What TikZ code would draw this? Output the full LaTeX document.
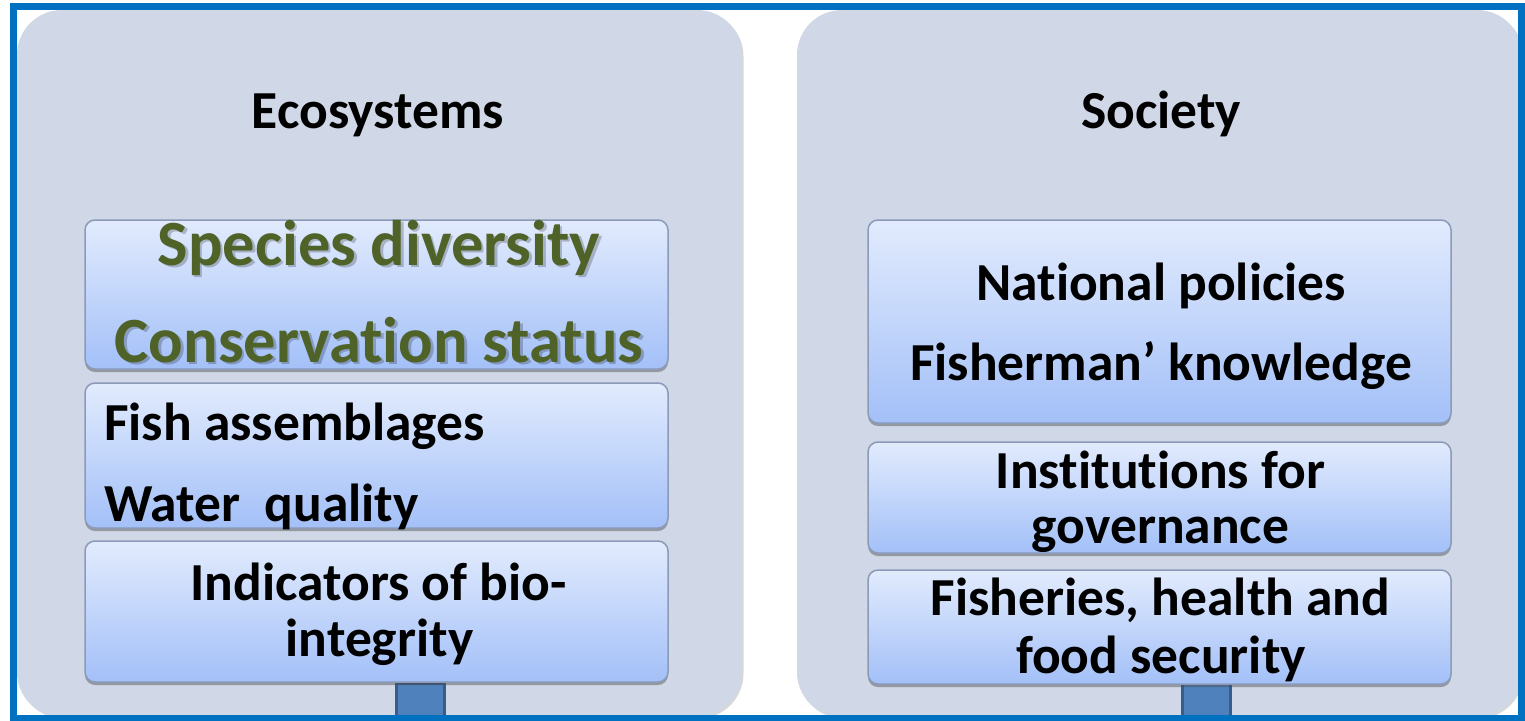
\documentclass[tikz,border=0pt]{standalone}
\usepackage{fontspec}
\setmainfont{Carlito}[Ligatures=NoCommon]
\usetikzlibrary{shadows}
\definecolor{framecol}{HTML}{0070C0}
\definecolor{panelcol}{HTML}{D0D7E6}
\definecolor{boxtop}{HTML}{E2EBFD}
\definecolor{boxbot}{HTML}{A3C0F8}
\definecolor{boxline}{HTML}{8B9AB8}
\definecolor{greentxt}{HTML}{4F6228}
\definecolor{sqfill}{HTML}{4F81BD}
\definecolor{sqline}{HTML}{385D8A}
\tikzset{
  panel/.style={fill=panelcol, rounded corners=45pt, draw=none, inner sep=0pt,
    drop shadow={shadow xshift=1.5pt, shadow yshift=-1.5pt, opacity=0.25, fill=black!60}},
  inbox/.style={draw=boxline, line width=1.5pt, rounded corners=10pt, top color=boxtop,
    bottom color=boxbot, inner sep=0pt,
    drop shadow={shadow xshift=0pt, shadow yshift=-3pt, opacity=0.45, fill=black!70}},
  blk/.style={font=\fontsize{53.5}{60}\selectfont\bfseries, inner sep=0pt, text=black},
  grn/.style={font=\fontsize{64.5}{70}\selectfont\bfseries, inner sep=0pt, text=greentxt},
  grnshadow/.style={font=\fontsize{64.5}{70}\selectfont\bfseries, inner sep=0pt, text=black, opacity=0.22},
  sq/.style={draw=sqline, fill=sqfill, line width=3pt, inner sep=0pt},
}
\begin{document}
\begin{tikzpicture}[x=1pt,y=-1pt]
\useasboundingbox (0,0) rectangle (1525,720);
\fill[white] (0,0) rectangle (1525,720);
\begin{scope}
\clip (17,10) rectangle (1518,715);
% panels
\node[panel, minimum width=725pt, minimum height=707pt] (ecopanel) at (379.5,363.5) {};
\node[panel, minimum width=725pt, minimum height=707pt] (socpanel) at (1159.5,363.5) {};
% connector stubs
\node[sq, minimum width=48pt, minimum height=44pt] (sqleft) at (420,705) {};
\node[sq, minimum width=48pt, minimum height=44pt] (sqright) at (1206,705) {};
\end{scope}
% titles
\node[blk, anchor=base] (ecotitle) at (378,128) {Ecosystems};
\node[blk, anchor=base] (soctitle) at (1161,128) {Society};
% left boxes
\node[inbox, minimum width=583pt, minimum height=149pt] (lb1) at (376.5,294.5) {};
\node[inbox, minimum width=583pt, minimum height=145pt] (lb2) at (376.5,455.5) {};
\node[inbox, minimum width=583pt, minimum height=141pt] (lb3) at (376.5,611.5) {};
% right boxes
\node[inbox, minimum width=583pt, minimum height=203pt] (rb1) at (1159.5,321.5) {};
\node[inbox, minimum width=583pt, minimum height=111pt] (rb2) at (1159.5,497.5) {};
\node[inbox, minimum width=583pt, minimum height=114pt] (rb3) at (1159.5,627) {};
% green text with shadow
\node[grnshadow, anchor=base] (sdsh) at (381.5,267.5) {Species diversity};
\node[grn, anchor=base] (sd) at (379,265) {Species diversity};
\node[grnshadow, anchor=base] (cssh) at (381.5,364.5) {Conservation status};
\node[grn, anchor=base] (cs) at (379,362) {Conservation status};
% left black text
\node[blk, anchor=base west] (fa) at (104,440) {Fish assemblages};
\node[blk, anchor=base west] (wq) at (104,521) {Water\ \ quality};
\node[blk, anchor=base] (ind1) at (378.5,600) {Indicators of bio-};
\node[blk, anchor=base] (ind2) at (379.5,656) {integrity};
% right black text
\node[blk, anchor=base] (np) at (1161,300) {National policies};
\node[blk, anchor=base] (fk) at (1161,380) {Fisherman’ knowledge};
\node[blk, anchor=base] (inst1) at (1160.5,488) {Institutions for};
\node[blk, anchor=base] (inst2) at (1160.5,543) {governance};
\node[blk, anchor=base] (fh1) at (1160.5,615) {Fisheries, health and};
\node[blk, anchor=base] (fh2) at (1161,673) {food security};
% frame
\draw[framecol, line width=7pt] (13.5,6.5) rectangle (1521.5,718.5);
\end{tikzpicture}
\end{document}
